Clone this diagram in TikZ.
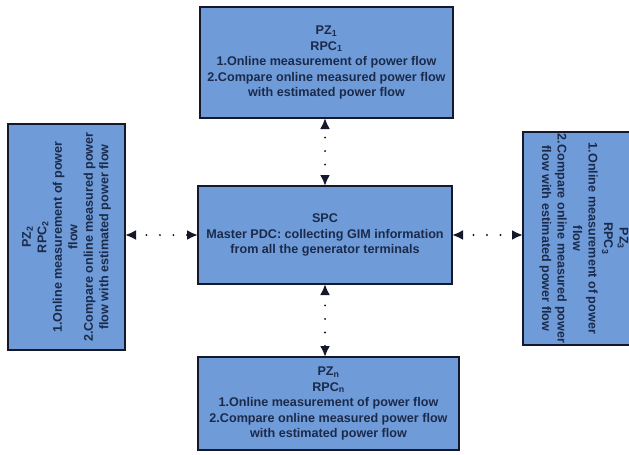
\documentclass[tikz,border=0pt]{standalone}
\usepackage{fontspec}
\setmainfont{Liberation Sans}
\usepackage{tikz}
\usetikzlibrary{arrows.meta}

\definecolor{zonefill}{HTML}{6F9CD9}
\definecolor{zoneline}{HTML}{15182A}
\definecolor{zonetext}{HTML}{1B2A4A}

\begin{document}
\begin{tikzpicture}[x=1pt, y=-1pt,
	every node/.style={font=\fontsize{12.6}{15.5}\selectfont\bfseries, text=zonetext},
	zonebox/.style={draw=zoneline, line width=1.8pt, fill=zonefill, align=center, inner sep=2pt, outer sep=0pt},
	link/.style={{Latex[length=11pt,width=10pt]}-{Latex[length=11pt,width=10pt]}, line width=2.2pt, line cap=round, dash pattern=on 0pt off 13.5pt, dash phase=2pt, zoneline}]
	\useasboundingbox (0,0) rectangle (629,455);
	% central controller
	\node[zonebox, minimum width=254pt, minimum height=98pt] (spc) at (325,235) {SPC\\Master PDC: collecting GIM information\\from all the generator terminals};
	% protection zones
	\node[zonebox, minimum width=253pt, minimum height=111pt] (pz1) at (326.5,62.5) {PZ\textsubscript{1}\\RPC\textsubscript{1}\\1.Online measurement of power flow\\2.Compare online measured power flow\\with estimated power flow};
	\node[zonebox, minimum width=261pt, minimum height=93pt] (pzn) at (328.5,403.5) {PZ\textsubscript{n}\\RPC\textsubscript{n}\\1.Online measurement of power flow\\2.Compare online measured power flow\\with estimated power flow};
	\node[zonebox, rotate=90, minimum width=226pt, minimum height=117pt] (pz2) at (66.5,237) {PZ\textsubscript{2}\\RPC\textsubscript{2}\\1.Online measurement of power\\flow\\2.Compare online measured power\\flow with estimated power flow};
	\node[zonebox, rotate=-90, minimum width=213pt, minimum height=122pt] (pz3) at (584,238.5) {PZ\textsubscript{3}\\RPC\textsubscript{3}\\1.Online measurement of power\\flow\\2.Compare online measured power\\flow with estimated power flow};
	% links
	\draw[link] (spc.north) -- (spc.north |- pz1.south);
	\draw[link] (spc.south) -- (spc.south |- pzn.north);
	\draw[link] (pz2.south |- spc.west) -- (spc.west);
	\draw[link] (spc.east) -- (pz3.south |- spc.east);
\end{tikzpicture}
\end{document}
